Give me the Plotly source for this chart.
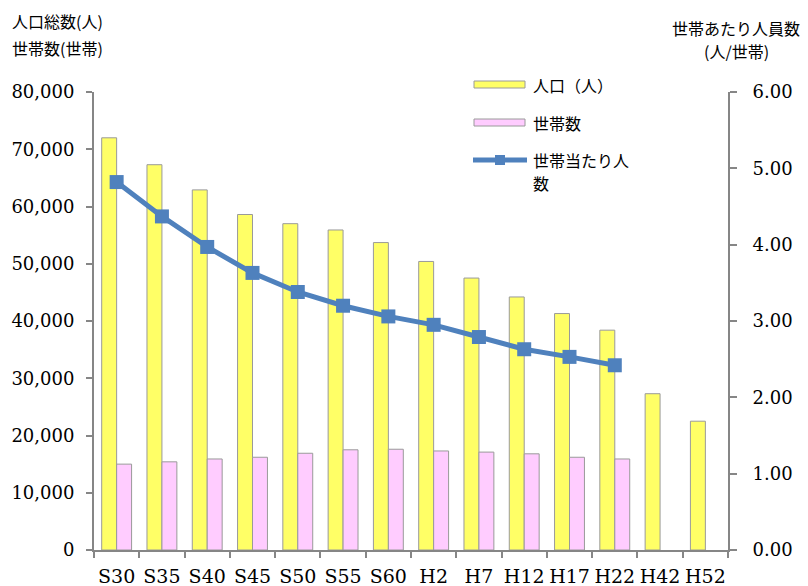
import plotly.graph_objects as go

categories = ["S30", "S35", "S40", "S45", "S50", "S55", "S60", "H2", "H7", "H12", "H17", "H22", "H42", "H52"]
population = [72000, 67300, 62900, 58600, 57000, 55900, 53700, 50400, 47500, 44200, 41300, 38400, 27300, 22500]
households = [15000, 15400, 15900, 16200, 16900, 17500, 17600, 17300, 17100, 16800, 16200, 15900, None, None]
persons_per_household = [4.82, 4.37, 3.97, 3.63, 3.38, 3.20, 3.06, 2.95, 2.79, 2.63, 2.53, 2.42, None, None]

# page body has an 8px margin: figure is placed at (8, 8) in the window
OFF = 8
W, H = 800, 578
# plot area in window pixels: x 94..728, y 92..550
L, R, T, B = 94 - OFF, W - (728 - OFF), 92 - OFF, H - (550 - OFF)
PW, PH = W - L - R, H - T - B

def px(x):
    return (x - OFF - L) / PW

def py(y):
    return (H - B - (y - OFF)) / PH

JP = "Noto Sans CJK JP"
SERIF = "DejaVu Serif"
AXIS = "#868686"
BLUE = "#4F81BD"
YELLOW = "#FFFF66"
PINK = "#FFCCFF"
EDGE = "#9A9A9A"

fig = go.Figure()
fig.add_trace(go.Bar(x=categories, y=population, name="人口（人）",
                     marker=dict(color=YELLOW, line=dict(color=EDGE, width=1)), showlegend=False))
fig.add_trace(go.Bar(x=categories, y=households, name="世帯数",
                     marker=dict(color=PINK, line=dict(color=EDGE, width=1)), showlegend=False))
fig.add_trace(go.Scatter(x=categories, y=persons_per_household, name="世帯当たり人数", yaxis="y2",
                         mode="lines+markers", line=dict(color=BLUE, width=5),
                         marker=dict(symbol="square", size=14, color=BLUE), showlegend=False))

shapes = []
annotations = []
# manual legend
shapes.append(dict(type="rect", xref="paper", yref="paper", x0=px(474), x1=px(525), y0=py(88), y1=py(81),
                   fillcolor=YELLOW, line=dict(color=EDGE, width=1)))
shapes.append(dict(type="rect", xref="paper", yref="paper", x0=px(474), x1=px(525), y0=py(126), y1=py(119),
                   fillcolor=PINK, line=dict(color=EDGE, width=1)))
shapes.append(dict(type="line", xref="paper", yref="paper", x0=px(473), x1=px(527), y0=py(160), y1=py(160),
                   line=dict(color=BLUE, width=5)))
shapes.append(dict(type="rect", xref="paper", yref="paper", x0=px(495), x1=px(505), y0=py(165), y1=py(155),
                   fillcolor=BLUE, line=dict(color=BLUE, width=0)))
for txt, yc in [("人口（人）", 85), ("世帯数", 123), ("世帯当たり人", 160), ("数", 183)]:
    annotations.append(dict(text=txt, xref="paper", yref="paper", x=px(531), y=py(yc), xanchor="left",
                            yanchor="middle", showarrow=False, font=dict(family=JP, size=16, color="black")))

# axis titles
for txt, yc in [("人口総数(人)", 21), ("世帯数(世帯)", 48)]:
    annotations.append(dict(text=txt, xref="paper", yref="paper", x=px(10), y=py(yc),
                            xanchor="left", yanchor="middle", showarrow=False,
                            font=dict(family=JP, size=16, color="black")))
for txt, yc in [("世帯あたり人員数", 28), ("(人/世帯)", 51)]:
    annotations.append(dict(text=txt, xref="paper", yref="paper", x=px(736), y=py(yc),
                            xanchor="center", yanchor="middle", showarrow=False,
                            font=dict(family=JP, size=16, color="black")))

fig.update_layout(
    width=W, height=H,
    margin=dict(l=L, r=R, t=T, b=B, autoexpand=False),
    paper_bgcolor="white", plot_bgcolor="white",
    barmode="group", bargap=0.34, bargroupgap=0,
    shapes=shapes, annotations=annotations,
    xaxis=dict(range=[-0.5, len(categories) - 0.5], showline=True, linecolor=AXIS, linewidth=2,
               ticks="outside", tickson="boundaries", ticklabelstandoff=8,
               ticklen=6, tickcolor=AXIS, tickwidth=1.5, showgrid=False, tickangle=0, automargin=False,
               tickfont=dict(family=SERIF, size=19, color="black")),
    yaxis=dict(range=[0, 80000], dtick=10000, tickformat=",", showline=True, linecolor=AXIS, linewidth=2,
               ticks="outside", ticklen=6, tickcolor=AXIS, tickwidth=1.5, showgrid=False, zeroline=False,
               automargin=False, ticklabelstandoff=8, tickfont=dict(family=SERIF, size=18, color="black")),
    yaxis2=dict(range=[0, 6], dtick=1, tickformat=".2f", overlaying="y", side="right", showline=True,
                linecolor=AXIS, linewidth=2, ticks="outside", ticklen=7, tickcolor=AXIS, tickwidth=1.5,
                showgrid=False, zeroline=False, automargin=False, ticklabelstandoff=12,
                tickfont=dict(family=SERIF, size=18, color="black")),
)

fig.write_html("out.html")
